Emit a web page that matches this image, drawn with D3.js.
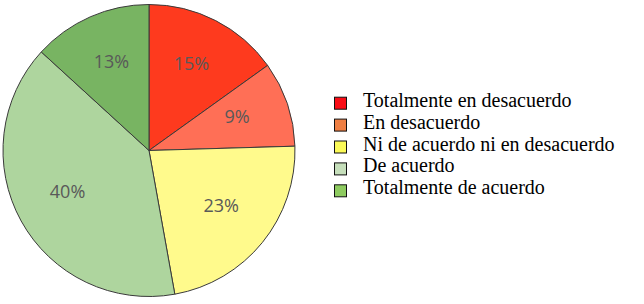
<!DOCTYPE html>
<html>
<head>
<meta charset="utf-8">
<script src="https://cdn.jsdelivr.net/npm/d3@7"></script>
<style>
  body { margin: 0; background: #fff; }
  .legend-text { font-family: "Liberation Serif", "Times New Roman", serif; font-size: 20px; fill: #000; }
  .pct { font-family: "Open Sans", sans-serif; font-size: 18px; fill: #595959; }
</style>
</head>
<body>
<div id="chart"></div>
<script>
// answers per category (out of 53)
var categories = ["Totalmente en desacuerdo", "En desacuerdo", "Ni de acuerdo ni en desacuerdo", "De acuerdo", "Totalmente de acuerdo"];
var counts = [8, 5, 12, 21, 7];
var pieColors = ["#fe3a1e", "#ff6f56", "#fffa8c", "#aed59e", "#78b462"];
var legendColors = ["#f80d16", "#ef7f43", "#fbfa58", "#c6dfbb", "#8ecb60"];

var width = 644, height = 304;
var cx = 149, cy = 150.5, radius = 146;

var svg = d3.select("#chart")
  .append("svg")
  .attr("width", width)
  .attr("height", height);

var total = d3.sum(counts);
var data = categories.map(function (c, i) {
  return { name: c, value: counts[i], color: pieColors[i], legend: legendColors[i] };
});

var pie = d3.pie().sort(null).value(function (d) { return d.value; });
var arc = d3.arc().innerRadius(0).outerRadius(radius);
var labelArc = d3.arc().innerRadius(93).outerRadius(93);

var g = svg.append("g").attr("transform", `translate(${cx}, ${cy})`);

g.selectAll("path")
  .data(pie(data))
  .join("path")
  .attr("d", arc)
  .attr("fill", function (d) { return d.data.color; })
  .attr("stroke", "#3a3a3a")
  .attr("stroke-width", 1);

g.selectAll("text")
  .data(pie(data))
  .join("text")
  .attr("class", "pct")
  .attr("transform", function (d) { return `translate(${labelArc.centroid(d)})`; })
  .attr("text-anchor", "middle")
  .attr("dy", "0.15em")
  .text(function (d) { return Math.round(d.data.value / total * 100) + "%"; });

// legend
var legend = svg.append("g").attr("transform", "translate(334, 96.7)");
var row = legend.selectAll("g")
  .data(data)
  .join("g")
  .attr("transform", function (d, i) { return `translate(0, ${i * 21.9})`; });

row.append("rect")
  .attr("x", 0.5)
  .attr("y", 0.5)
  .attr("width", 12)
  .attr("height", 12)
  .attr("fill", function (d) { return d.legend; })
  .attr("stroke", "#111")
  .attr("stroke-width", 1);

row.append("text")
  .attr("class", "legend-text")
  .attr("x", 29)
  .attr("y", 10)
  .text(function (d) { return d.name; });
</script>
</body>
</html>
